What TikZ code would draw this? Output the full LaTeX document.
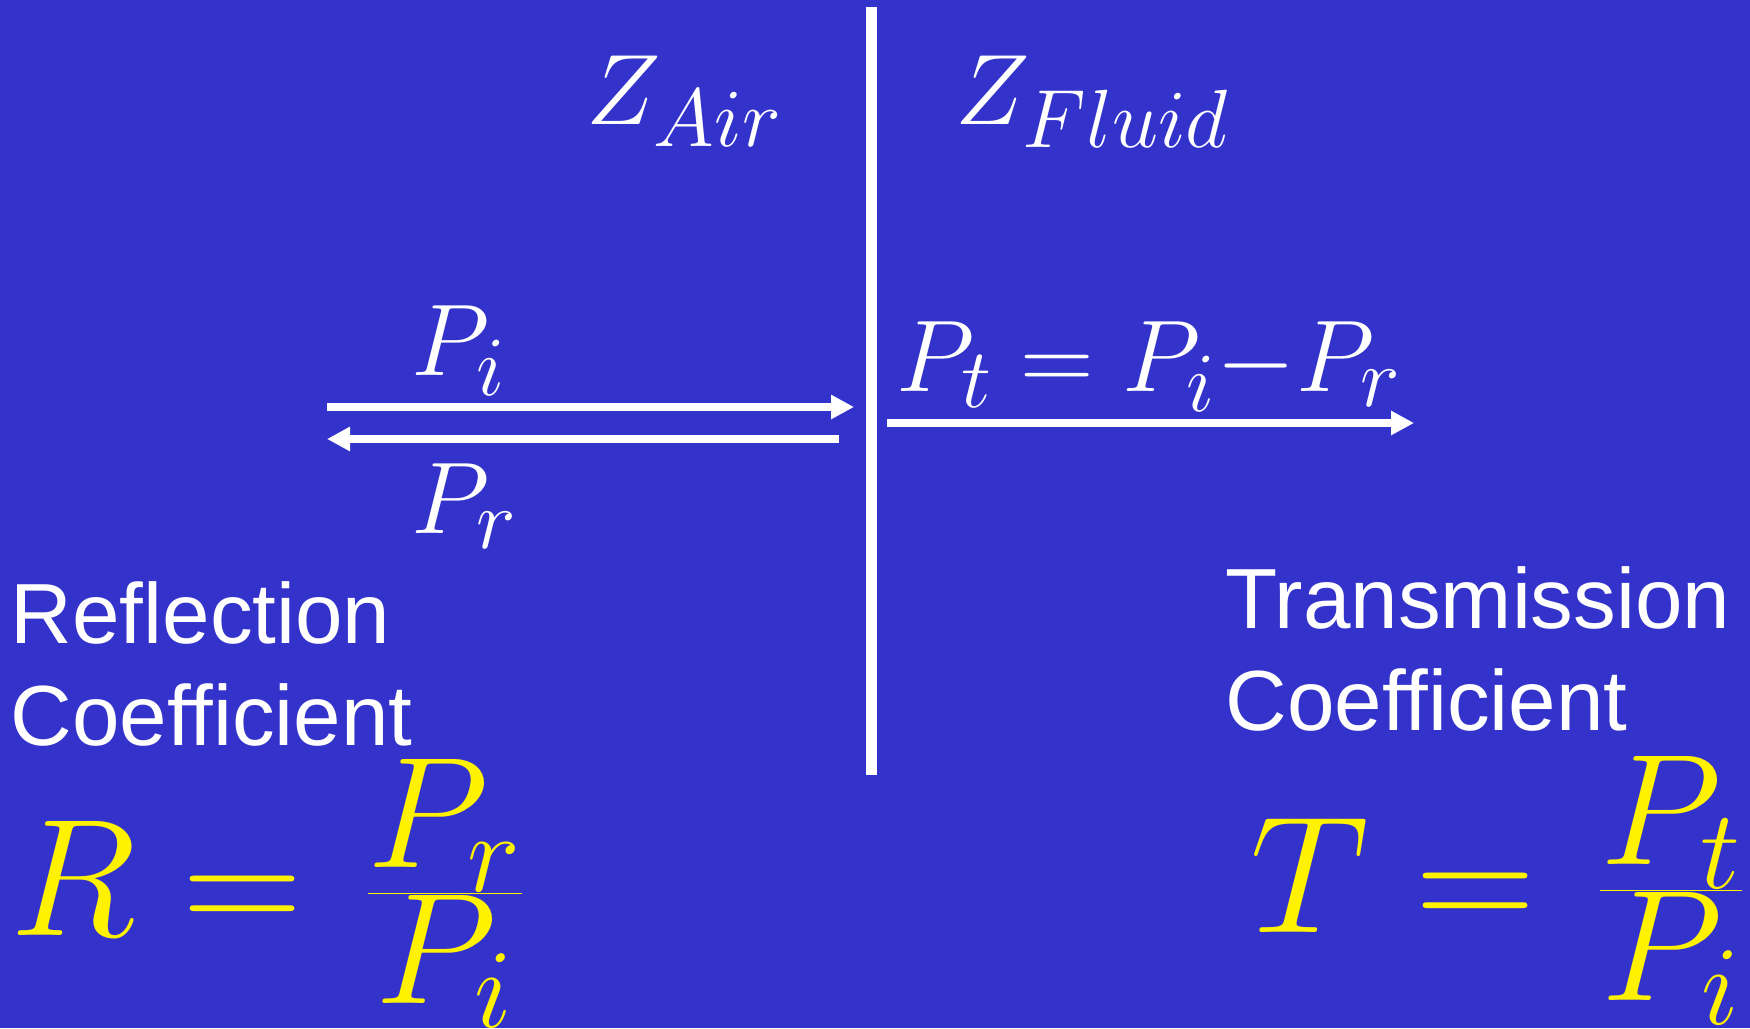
\RequirePackage{fix-cm}
\documentclass[tikz,border=0pt]{standalone}
\usepackage[no-math]{fontspec}
\setmainfont{Liberation Sans}
\usetikzlibrary{arrows.meta,positioning}

\definecolor{bgblue}{RGB}{51,51,204}
\definecolor{eqyellow}{RGB}{255,242,0}
\DeclareMathSizes{28.5}{28.5}{23.5}{18}
\DeclareMathSizes{29}{29}{24}{19}
\DeclareMathSizes{47.5}{47.5}{45}{32}

\begin{document}
\begin{tikzpicture}[
  % Text styles
  imp/.style={anchor=base west, inner sep=0pt, text=white, font=\fontsize{28.5}{34}\selectfont},
  pres/.style={anchor=base west, inner sep=0pt, text=white, font=\fontsize{29}{35}\selectfont},
  coef/.style={anchor=base west, inner sep=0pt, text=white, font=\fontsize{24.3}{29}\selectfont},
  eq/.style={anchor=base west, inner sep=0pt, text=eqyellow, font=\fontsize{47.5}{57}\selectfont},
  % Arrow style (all waves use the same style)
  wave/.style={-{Triangle[length=0.23cm, width=0.23cm]}, white, line width=0.08cm},
  wall/.style={white, line width=0.11cm},
]

\useasboundingbox (0,0) rectangle (17.5,-10.28);
\fill[bgblue] (0,0) rectangle (17.5,-10.28);

% === Interface ===
\coordinate (wallTop) at (8.71,-0.07);
\coordinate (wallBot) at (8.71,-7.75);
\draw[wall] (wallTop) -- (wallBot);

% === Media ===
\node[imp] (ZA) at (5.86,-1.25) {$Z_{Air}$};
\node[imp] (ZF) at (9.55,-1.25) {$Z_{Fluid}$};

% === Waves ===
\coordinate (incS) at (3.27,-4.07);
\coordinate (incE) at (8.54,-4.07);
\coordinate (refS) at (8.39,-4.39);
\coordinate (refE) at (3.27,-4.39);
\coordinate (traS) at (8.87,-4.23);
\coordinate (traE) at (14.14,-4.23);

\draw[wave] (incS) -- (incE);
\draw[wave] (refS) -- (refE);
\draw[wave] (traS) -- (traE);

\node[pres] (Pi) at (4.11,-3.75) {$P_i$};
\node[pres] (Pr) at (4.11,-5.33) {$P_r$};
\node[pres] (Pt) at (8.96,-3.91) {$P_t = P_i{-}P_r$};

% === Coefficients ===
\node[coef] (refl) at (0.10,-6.43) {Reflection};
\node[coef] (reflB) at ([yshift=-1.02cm]refl.base west) {Coefficient};
\node[coef] (trans) at (12.25,-6.28) {Transmission};
\node[coef] (transB) at ([yshift=-1.02cm]trans.base west) {Coefficient};

\node[eq] (Req) at (0.10,-9.35) {$R =\mkern1.5mu \frac{P_r}{P_i}$};
\node[eq] (Teq) at (12.50,-9.32) {$T =\mkern1.5mu \frac{P_t}{P_i}$};

\end{tikzpicture}
\end{document}
